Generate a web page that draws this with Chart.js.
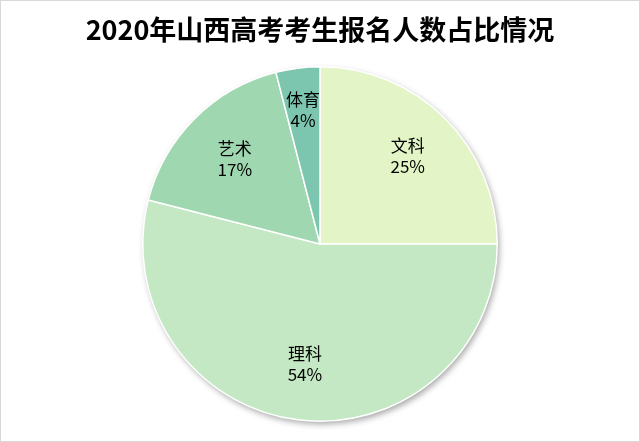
<!DOCTYPE html>
<html><head><meta charset="utf-8">
<script src="https://cdn.jsdelivr.net/npm/chart.js@4/dist/chart.umd.min.js"></script>
<style>html,body{margin:0;padding:0;background:#fff}#wrap{width:640px;height:442px}</style>
</head><body><div id="wrap"><canvas id="c" width="640" height="442"></canvas></div>
<script>
const titleText = '2020年山西高考考生报名人数占比情况';
const categories = ['文科', '理科', '艺术', '体育'];
const percentValues = [25, 54, 17, 4];
const sliceColors = ['#E3F5C7', '#C3E8C3', '#9FD8B0', '#7CC6B0'];

const frame = {
  id: 'frame',
  beforeDraw(chart) {
    const ctx = chart.ctx;
    ctx.save();
    ctx.fillStyle = '#fff';
    ctx.fillRect(0, 0, chart.width, chart.height);
    ctx.strokeStyle = '#d9d9d9';
    ctx.lineWidth = 1;
    ctx.strokeRect(0.5, 0.5, chart.width - 1, chart.height - 1);
    ctx.restore();
  },
  beforeDatasetsDraw(chart) {
    const arc = chart.getDatasetMeta(0).data[0];
    if (!arc) return;
    const ctx = chart.ctx;
    ctx.save();
    ctx.shadowColor = 'rgba(0,0,0,0.35)';
    ctx.shadowBlur = 6;
    ctx.shadowOffsetX = 2;
    ctx.shadowOffsetY = 3;
    ctx.fillStyle = '#C3E8C3';
    ctx.beginPath();
    ctx.arc(arc.x, arc.y, arc.outerRadius, 0, Math.PI * 2);
    ctx.fill();
    ctx.restore();
  }
};

const labels = {
  id: 'sliceLabels',
  afterDatasetsDraw(chart) {
    const ctx = chart.ctx;
    const meta = chart.getDatasetMeta(0);
    const fracs = [0.7, 0.68, 0.68, 0.76];
    ctx.save();
    ctx.fillStyle = '#000';
    ctx.font = '17px "Noto Sans CJK SC", "Noto Sans", sans-serif';
    ctx.textAlign = 'center';
    ctx.textBaseline = 'middle';
    meta.data.forEach((a, i) => {
      const mid = (a.startAngle + a.endAngle) / 2;
      const r = a.outerRadius * fracs[i];
      const x = a.x + Math.cos(mid) * r;
      const y = a.y + Math.sin(mid) * r;
      ctx.fillText(categories[i], x, y - 10.5);
      ctx.fillText(percentValues[i] + '%', x, y + 10.5);
    });
    ctx.restore();
  }
};

new Chart(document.getElementById('c'), {
  type: 'pie',
  data: {
    labels: categories,
    datasets: [{
      data: percentValues,
      backgroundColor: sliceColors,
      borderColor: '#ffffff',
      borderWidth: 1.5
    }]
  },
  options: {
    responsive: false,
    animation: false,
    layout: { padding: { top: 0, bottom: 20, left: 0, right: 0 } },
    plugins: {
      legend: { display: false },
      tooltip: { enabled: false },
      title: {
        display: true,
        text: titleText,
        color: '#000',
        font: { family: '"Noto Sans CJK SC", sans-serif', size: 27, weight: 'bold', lineHeight: 1.2 },
        padding: { top: 13.8, bottom: 19.8 }
      }
    }
  },
  plugins: [frame, labels]
});
</script>
</body></html>
